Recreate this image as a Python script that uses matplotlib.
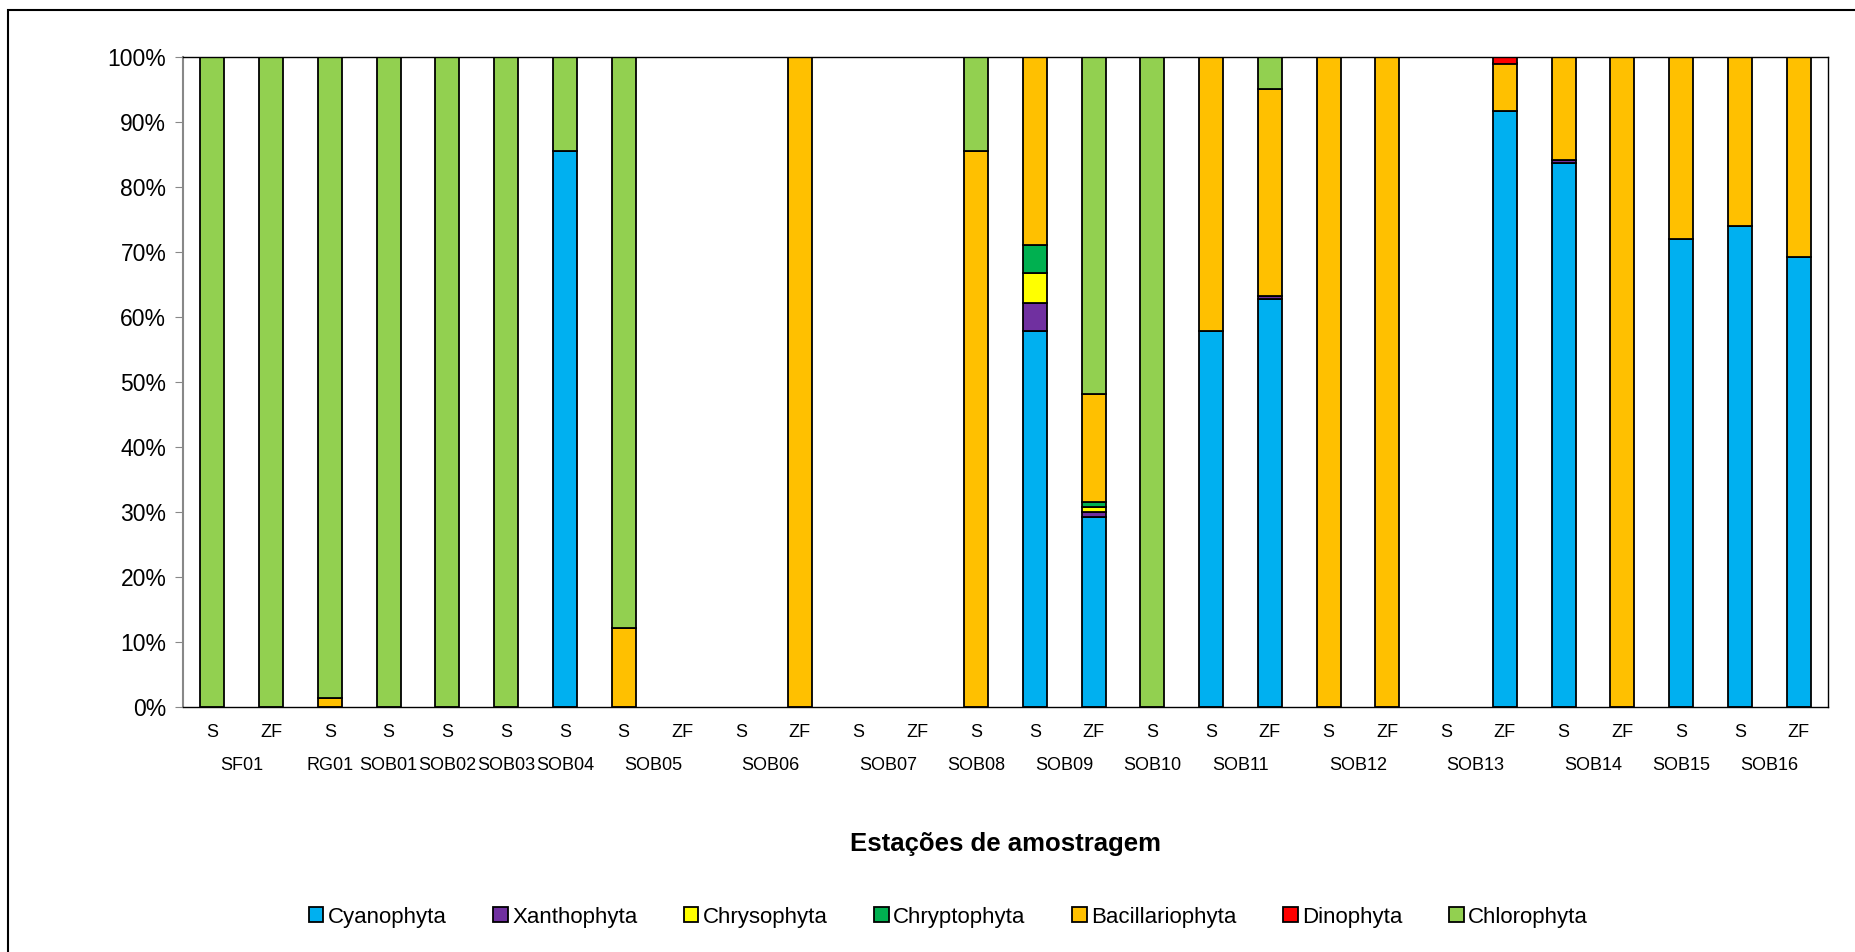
import numpy as np
import matplotlib.pyplot as plt
from matplotlib.patches import Rectangle

plt.rcParams['font.family'] = ['Liberation Sans', 'DejaVu Sans']

# sample labels per bar and the station each bar belongs to
bar_labels = ['S', 'ZF', 'S', 'S', 'S', 'S', 'S', 'S', 'ZF', 'S', 'ZF', 'S', 'ZF', 'S',
              'S', 'ZF', 'S', 'S', 'ZF', 'S', 'ZF', 'S', 'ZF', 'S', 'ZF', 'S', 'S', 'ZF']
stations = ['SF01', 'SF01', 'RG01', 'SOB01', 'SOB02', 'SOB03', 'SOB04', 'SOB05', 'SOB05',
            'SOB06', 'SOB06', 'SOB07', 'SOB07', 'SOB08', 'SOB09', 'SOB09', 'SOB10',
            'SOB11', 'SOB11', 'SOB12', 'SOB12', 'SOB13', 'SOB13', 'SOB14', 'SOB14',
            'SOB15', 'SOB16', 'SOB16']

# percentages per group, one value per bar
cyanophyta = [0, 0, 0, 0, 0, 0, 85.6, 0, 0, 0, 0, 0, 0, 0,
              57.8, 29.2, 0, 57.9, 62.8, 0, 0, 0, 91.7, 83.7, 0, 72.0, 74.0, 69.3]
xanthophyta = [0, 0, 0, 0, 0, 0, 0, 0, 0, 0, 0, 0, 0, 0,
               4.4, 0.8, 0, 0, 0.4, 0, 0, 0, 0, 0.4, 0, 0, 0, 0]
chrysophyta = [0, 0, 0, 0, 0, 0, 0, 0, 0, 0, 0, 0, 0, 0,
               4.5, 0.7, 0, 0, 0, 0, 0, 0, 0, 0, 0, 0, 0, 0]
chryptophyta = [0, 0, 0, 0, 0, 0, 0, 0, 0, 0, 0, 0, 0, 0,
                4.4, 0.9, 0, 0, 0, 0, 0, 0, 0, 0, 0, 0, 0, 0]
bacillariophyta = [0, 0, 1.4, 0, 0, 0, 0, 12.2, 0, 0, 100, 0, 0, 85.5,
                   28.9, 16.5, 0, 42.1, 31.9, 100, 100, 0, 7.3, 15.9, 100, 28.0, 26.0, 30.7]
dinophyta = [0, 0, 0, 0, 0, 0, 0, 0, 0, 0, 0, 0, 0, 0,
             0, 0, 0, 0, 0, 0, 0, 0, 1.0, 0, 0, 0, 0, 0]
chlorophyta = [100, 100, 98.6, 100, 100, 100, 14.4, 87.8, 0, 0, 0, 0, 0, 14.5,
               0, 51.9, 100, 0, 4.9, 0, 0, 0, 0, 0, 0, 0, 0, 0]

series = [('Cyanophyta', cyanophyta, '#00B0F0'),
          ('Xanthophyta', xanthophyta, '#7030A0'),
          ('Chrysophyta', chrysophyta, '#FFFF00'),
          ('Chryptophyta', chryptophyta, '#00B050'),
          ('Bacillariophyta', bacillariophyta, '#FFC000'),
          ('Dinophyta', dinophyta, '#FF0000'),
          ('Chlorophyta', chlorophyta, '#92D050')]

fig = plt.figure(figsize=(18.56, 9.52), dpi=100)
ax = fig.add_axes([183/1856, 1-707/952, (1828-183)/1856, (707-57)/952])

x = np.arange(len(bar_labels))
bottom = np.zeros(len(x))
for name, vals, color in series:
    vals = np.array(vals, dtype=float)
    lw = np.where(vals > 0, 1.3, 0.0)  # Excel doesn't draw empty segments
    ax.bar(x, vals, 0.41, bottom=bottom, color=color, edgecolor='black',
           linewidth=lw, label=name)
    bottom += vals

ax.set_xlim(-0.5, len(x) - 0.5)
ax.set_ylim(0, 100)
ax.set_yticks(np.arange(0, 101, 10))
ax.set_yticklabels([f'{v}%' for v in range(0, 101, 10)], fontsize=16.5)
ax.tick_params(axis='y', length=6, color='#888888', pad=6)
ax.set_xticks(x)
ax.set_xticklabels(bar_labels, fontsize=13)
ax.tick_params(axis='x', length=0, pad=12)
for s in ['top', 'right', 'bottom']:
    ax.spines[s].set_color('black')
    ax.spines[s].set_linewidth(1.0)
ax.spines['left'].set_color('#888888')
ax.spines['left'].set_linewidth(1.5)

# station names centred under their bars
trans = ax.get_xaxis_transform()
seen = []
for st in stations:
    if st not in seen:
        seen.append(st)
for st in seen:
    idx = [i for i, s in enumerate(stations) if s == st]
    ax.text(np.mean(idx), -(765 - 707) / 650, st, transform=trans,
            ha='center', va='center', fontsize=13)

fig.text(0.5 * (183 + 1828) / 1856, 1 - 844/952, 'Estações de amostragem',
         ha='center', va='center', fontsize=18.5, fontweight='bold')

handles, labels = ax.get_legend_handles_labels()
leg = fig.legend(handles, labels, loc='center', bbox_to_anchor=(0.511, 1 - 917/952), ncol=7,
                 frameon=False, fontsize=16, handlelength=0.65, handleheight=0.65,
                 handletextpad=0.2, columnspacing=2.1)
for h in leg.legend_handles:
    h.set_linewidth(1.3)

# outer chart border (only top/left visible in the crop)
fig.patches.append(Rectangle((8/1856, -0.1), 1.2, 1.1 - 10/952, transform=fig.transFigure,
                             fill=False, edgecolor='black', linewidth=1.5))

fig.savefig('out.png', dpi=100)
